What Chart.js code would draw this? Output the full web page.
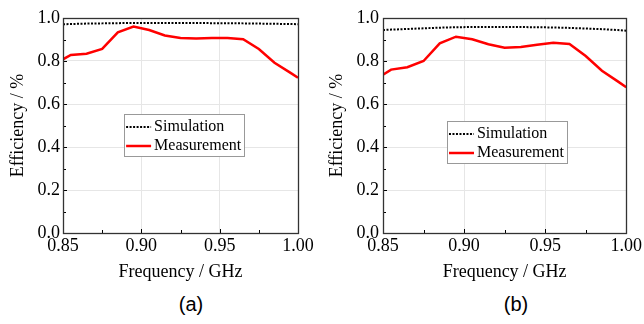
<!DOCTYPE html>
<html>
<head>
<meta charset="utf-8">
<script src="https://cdn.jsdelivr.net/npm/chart.js@4/dist/chart.umd.min.js"></script>
<style>
  html, body { margin: 0; padding: 0; background: #fff; }
  #wrap { position: relative; width: 644px; height: 324px; background: #fff; overflow: hidden; }
  .pane { position: absolute; top: 0; }
  .cap { position: absolute; font-family: "Liberation Sans", Arial, sans-serif; font-size: 20px; color: #000; transform: translate(-50%, -50%); white-space: nowrap; }
</style>
</head>
<body>
<div id="wrap">
  <canvas id="ca" class="pane" width="322" height="290" style="left:0px"></canvas>
  <canvas id="cb" class="pane" width="322" height="290" style="left:322px"></canvas>
  <div class="cap" style="left:191px; top:304px">(a)</div>
  <div class="cap" style="left:516px; top:304px">(b)</div>
</div>
<script>
// ---- data ----
const freq = [0.85, 0.855, 0.865, 0.875, 0.885, 0.895, 0.905, 0.915, 0.925, 0.935, 0.945, 0.955, 0.965, 0.975, 0.985, 0.995, 1.0];
const simA  = [0.971, 0.972, 0.974, 0.975, 0.976, 0.977, 0.977, 0.977, 0.977, 0.977, 0.976, 0.976, 0.975, 0.974, 0.973, 0.972, 0.971];
const measA = [0.808, 0.828, 0.834, 0.856, 0.933, 0.960, 0.944, 0.919, 0.907, 0.905, 0.907, 0.907, 0.901, 0.856, 0.792, 0.746, 0.722];
const simB  = [0.944, 0.946, 0.949, 0.952, 0.955, 0.957, 0.958, 0.958, 0.958, 0.958, 0.957, 0.956, 0.954, 0.951, 0.948, 0.944, 0.941];
const measB = [0.736, 0.760, 0.771, 0.800, 0.882, 0.913, 0.901, 0.878, 0.862, 0.865, 0.876, 0.885, 0.879, 0.823, 0.755, 0.704, 0.678];
const xTicks = [0.85, 0.90, 0.95, 1.00];
const xMinorTicks = [0.875, 0.925, 0.975];
const yTicks = [0.0, 0.2, 0.4, 0.6, 0.8, 1.0];
const yMinorTicks = [0.1, 0.3, 0.5, 0.7, 0.9];
const seriesNames = ["Simulation", "Measurement"];
const xTitle = "Frequency / GHz";
const yTitle = "Efficiency / %";

const SERIF = '"Liberation Serif", "Times New Roman", serif';

// frame, inward ticks and in-plot legend
const framePlugin = {
  id: 'frameAndLegend',
  afterDatasetsDraw(chart, args, opts) {
    const {ctx, chartArea: a, scales: {x, y}} = chart;
    ctx.save();
    ctx.strokeStyle = '#000';
    ctx.lineWidth = 1;
    ctx.beginPath();
    const tick = (len, vals, axis) => {
      vals.forEach(v => {
        if (axis === 'x') {
          const px = Math.round(x.getPixelForValue(v)) + 0.5;
          ctx.moveTo(px, a.bottom); ctx.lineTo(px, a.bottom - len);
        } else {
          const py = Math.round(y.getPixelForValue(v)) + 0.5;
          ctx.moveTo(a.left, py); ctx.lineTo(a.left + len, py);
        }
      });
    };
    tick(4, xTicks, 'x'); tick(3, xMinorTicks, 'x');
    tick(4, yTicks, 'y'); tick(3, yMinorTicks, 'y');
    ctx.stroke();
    ctx.strokeStyle = '#333';
    ctx.lineWidth = 1.3;
    ctx.strokeRect(Math.round(a.left) + 0.5, Math.round(a.top) + 0.5, Math.round(a.right - a.left), Math.round(a.bottom - a.top));

    // legend
    const lx = a.left + opts.fx * (a.right - a.left);
    const ly = a.top + opts.fy * (a.bottom - a.top);
    ctx.font = '16px ' + SERIF;
    const sample = 26, gap = 3, rowH = 19;
    let tw = 0;
    chart.data.datasets.forEach(d => { tw = Math.max(tw, ctx.measureText(d.label).width); });
    const bw = 1 + sample + gap + tw + 3;
    const bh = 42;
    ctx.fillStyle = '#fff';
    ctx.fillRect(lx, ly, bw, bh);
    ctx.strokeStyle = '#999';
    ctx.lineWidth = 1;
    ctx.strokeRect(Math.round(lx) + 0.5, Math.round(ly) + 0.5, Math.round(bw), bh);
    chart.data.datasets.forEach((d, i) => {
      const cy = Math.round(ly + 13 + i * rowH);
      ctx.beginPath();
      ctx.strokeStyle = d.borderColor;
      ctx.lineWidth = d.borderWidth;
      ctx.setLineDash(d.borderDash || []);
      ctx.moveTo(lx + 2, cy); ctx.lineTo(lx + 1 + sample, cy);
      ctx.stroke();
      ctx.setLineDash([]);
      ctx.fillStyle = '#000';
      ctx.textBaseline = 'middle';
      ctx.textAlign = 'left';
      ctx.fillText(d.label, lx + 1 + sample + gap, cy);
    });
    ctx.restore();
  }
};

function makeChart(id, sim, meas, cfg) {
  const pts = arr => freq.map((f, i) => ({x: f, y: arr[i]}));
  return new Chart(document.getElementById(id), {
    type: 'line',
    data: {
      datasets: [
        { label: seriesNames[0], data: pts(sim), borderColor: '#000', borderWidth: 2, borderDash: [2, 1.5], pointRadius: 0, tension: 0, fill: false },
        { label: seriesNames[1], data: pts(meas), borderColor: '#ff0000', borderWidth: 2.5, pointRadius: 0, tension: 0, fill: false }
      ]
    },
    options: {
      responsive: false,
      animation: false,
      devicePixelRatio: 1,
      layout: { padding: { left: 0, right: cfg.padRight, top: 18, bottom: 0 } },
      plugins: {
        legend: { display: false },
        tooltip: { enabled: false },
        frameAndLegend: { fx: cfg.fx, fy: cfg.fy }
      },
      scales: {
        x: {
          type: 'linear', min: 0.85, max: 1.0,
          afterBuildTicks: s => { s.ticks = xTicks.map(v => ({value: v})); },
          afterFit: s => { s.height = 57; },
          ticks: { color: '#000', font: { family: SERIF, size: 18 }, padding: 2, maxRotation: 0, autoSkip: false,
                   callback: v => Number(v).toFixed(2) },
          grid: { color: '#e6e6e6', lineWidth: 1, drawTicks: false },
          border: { display: false },
          title: { display: true, text: xTitle, color: '#000', font: { family: SERIF, size: 18 }, padding: { top: 0, bottom: 7 } }
        },
        y: {
          type: 'linear', min: 0, max: 1.0,
          afterBuildTicks: s => { s.ticks = yTicks.map(v => ({value: v})); },
          afterFit: s => { s.width = cfg.yWidth; },
          ticks: { color: '#000', font: { family: SERIF, size: 18 }, padding: cfg.yTickPad,
                   callback: v => Number(v).toFixed(1) },
          grid: { color: '#e6e6e6', lineWidth: 1, drawTicks: false },
          border: { display: false },
          title: { display: true, text: yTitle, color: '#000', font: { family: SERIF, size: 18 }, padding: { top: cfg.yTitlePad, bottom: 0 } }
        }
      }
    },
    plugins: [framePlugin]
  });
}

makeChart('ca', simA, measA, { padRight: 24, yWidth: 63, yTickPad: 3, yTitlePad: 7, fx: 0.26, fy: 0.447 });
makeChart('cb', simB, measB, { padRight: 14, yWidth: 61, yTickPad: 4, yTitlePad: 4, fx: 0.263, fy: 0.479 });
</script>
</body>
</html>
